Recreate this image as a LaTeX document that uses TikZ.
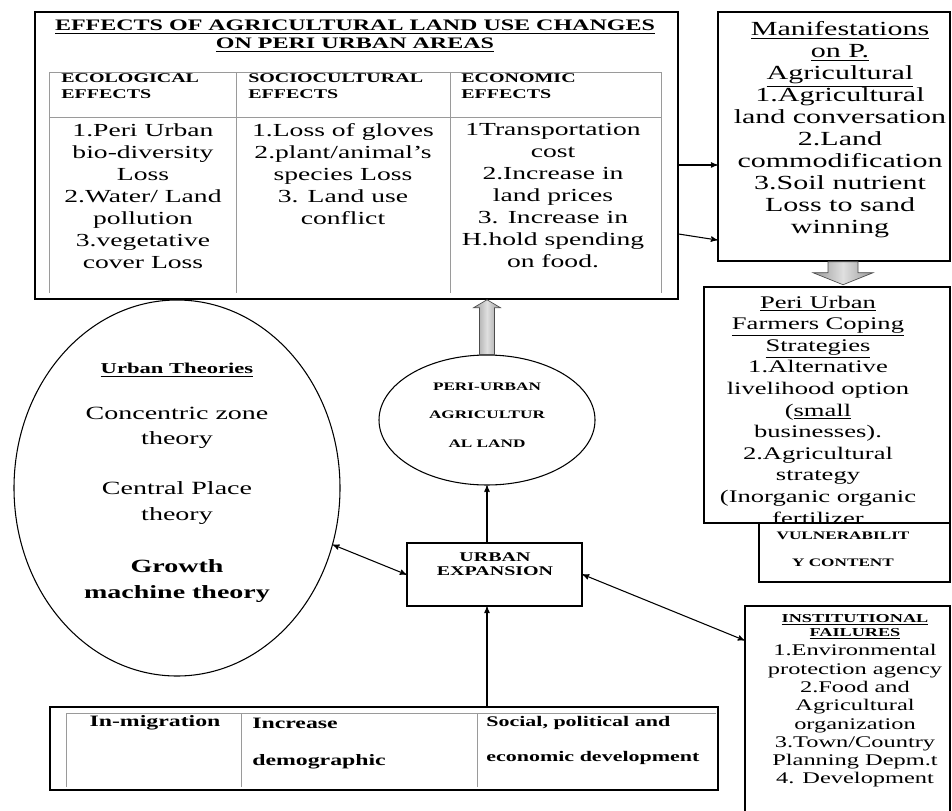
\documentclass[tikz,border=0pt]{standalone}
\usepackage{fontspec}
\setmainfont{Liberation Serif}[FakeStretch=1.5]
\usepackage{tikz}
\usetikzlibrary{arrows,shapes.geometric,calc}
\tikzset{>=stealth'}
\definecolor{gridgray}{HTML}{9A9A9A}
\newcommand{\fs}[2]{\fontsize{#1}{#2}\selectfont}
\tikzset{
  box/.style={draw,line width=1.1pt,fill=white,inner sep=0pt},
  oval/.style={draw,ellipse,line width=0.8pt,inner sep=0pt},
  txt/.style={align=center,inner sep=0pt},
  gridline/.style={gridgray,line width=0.7pt},
  link/.style={line width=0.8pt},
  blockarr/.style={draw=black!70,line width=0.5pt,left color=gray!80,right color=gray!80,middle color=gray!25},
}

\begin{document}
\begin{tikzpicture}[x=0.75pt,y=-0.75pt]
\useasboundingbox (0,0) rectangle (952,810);
\clip (0,0) rectangle (952,810);
% effects table
\node[box,minimum width=482.25pt,minimum height=215.25pt] (effects) at (356.5,155.5) {};
\draw[gridline] (49,293) -- (49,72) -- (661,72) -- (661,293);
\draw[gridline] (49,117) -- (661,117);
\draw[gridline] (236,72) -- (236,293);
\draw[gridline] (450,72) -- (450,293);
\node[txt,font=\fs{12}{13.5}\bfseries] (title) at (355,36) {\underline{EFFECTS OF AGRICULTURAL LAND USE CHANGES}\\\underline{ON PERI URBAN AREAS}};
\node[txt,anchor=west,align=left,font=\fs{10}{12}\bfseries] (hEco) at (61,86) {ECOLOGICAL\\EFFECTS};
\node[txt,anchor=west,align=left,font=\fs{10}{12}\bfseries] (hSoc) at (248,86) {SOCIOCULTURAL\\EFFECTS};
\node[txt,anchor=west,align=left,font=\fs{10}{12}\bfseries] (hEcn) at (461,86) {ECONOMIC\\EFFECTS};
\node[txt,font=\fs{13.8}{16.5}] (ecoList) at (143,196) {1.Peri Urban\\bio-diversity\\Loss\\2.Water/ Land\\pollution\\3.vegetative\\cover Loss};
\node[txt,font=\fs{13.8}{16.5}] (socList) at (343,174) {1.Loss of gloves\\2.plant/animal's\\species Loss\\3. Land use\\conflict};
\node[txt,font=\fs{13.8}{16.5}] (ecnList) at (553,196) {1Transportation\\cost\\2.Increase in\\land prices\\3. Increase in\\H.hold spending\\on food.};

% manifestations
\node[box,minimum width=174pt,minimum height=186.75pt] (manif) at (834,136.5) {};
\node[txt,font=\fs{15}{16.5}] (manifText) at (840,130) {\underline{Manifestations}\\\underline{on P.}\\\underline{Agricultural}\\1.Agricultural\\land conversation\\2.Land\\commodification\\3.Soil nutrient\\Loss to sand\\winning};
\coordinate (e1) at ([yshift=-7.1pt]effects.east);
\coordinate (e2) at ([yshift=-58.9pt]effects.east);
\draw[link,->] (e1) -- (e1 -| manif.west);
\draw[link,->] (e2) -- ($(e2 -| manif.west)+(0,6)$);

% coping strategies and vulnerability
\node[box,minimum width=143.25pt,minimum height=57.75pt] (vulner) at (854.5,543.5) {};
\node[txt,font=\fs{8.6}{20}\bfseries] (vulnerText) at (843,549.5) {VULNERABILIT\\Y CONTENT};
\node[box,minimum width=184.5pt,minimum height=177pt] (coping) at (827,405) {};
\begin{scope}
  \clip (coping.north west) rectangle (coping.south east);
  \node[txt,font=\fs{13.3}{16.2}] (copingText) at (818,410) {\underline{Peri Urban}\\\underline{Farmers Coping}\\\underline{Strategies}\\1.Alternative\\livelihood option\\(\underline{small}\\businesses).\\2.Agricultural\\strategy\\(Inorganic organic\\fertilizer};
\end{scope}
\coordinate (baseD) at ($(manif.south)+(9,0)$);
\coordinate (tipD) at ($(baseD)+(0,23)$);
\shadedraw[blockarr] ($(baseD)+(-15,0)$) -- ($(baseD)+(-15,11)$) -- ($(baseD)+(-30,11)$) -- (tipD)
  -- ($(baseD)+(30,11)$) -- ($(baseD)+(15,11)$) -- ($(baseD)+(15,0)$) -- cycle;

% institutional failures
\node[box,minimum width=153.75pt,minimum height=168pt] (inst) at (847.5,718) {};
\node[txt,font=\fs{9.1}{10.5}\bfseries] (instHead) at (855,627) {\underline{INSTITUTIONAL}\\\underline{FAILURES}};
\node[txt,font=\fs{12.2}{13.7}] (instText) at (855,716) {1.Environmental\\protection agency\\2.Food and\\Agricultural\\organization\\3.Town/Country\\Planning Depm.t\\4. Development};

% urban theories
\node[oval,minimum width=244.5pt,minimum height=282pt] (theories) at (177,488) {};
\node[txt,font=\fs{11.3}{13}\bfseries] (thTitle) at (177,370) {\underline{Urban Theories}};
\node[txt,font=\fs{14}{19}] (thConc) at (177,427.5) {Concentric zone\\theory};
\node[txt,font=\fs{14}{19}] (thCent) at (177,503) {Central Place\\theory};
\node[txt,font=\fs{14}{19.5}\bfseries] (thGrow) at (177,581) {Growth\\machine theory};

% peri-urban land
\node[oval,minimum width=162pt,minimum height=97.5pt] (peri) at (487,420) {};
\node[txt,font=\fs{8.6}{21.4}\bfseries] (periText) at (487,415) {PERI-URBAN\\AGRICULTUR\\AL LAND};
\coordinate (tipU) at (peri.north |- effects.south);
\shadedraw[blockarr] ($(peri.north)+(-7.5,0)$) -- ($(tipU)+(-7.5,8)$) -- ($(tipU)+(-13.5,8)$) -- (tipU)
  -- ($(tipU)+(13.5,8)$) -- ($(tipU)+(7.5,8)$) -- ($(peri.north)+(7.5,0)$) -- cycle;

% urban expansion
\node[box,minimum width=131.25pt,minimum height=47.25pt] (urbexp) at (494.5,574.5) {};
\node[txt,font=\fs{10}{10.5}\bfseries] (urbexpText) at (495,564) {URBAN\\EXPANSION};
\draw[link,->] (urbexp.north -| peri.south) -- (peri.south);
\draw[link,<->] (theories.-20) -- (urbexp.west);
\coordinate (instIn) at ([yshift=-26.25pt]inst.north west);
\draw[link,<->] (urbexp.east) -- (instIn);

% drivers
\node[box,minimum width=501pt,minimum height=62.25pt] (drivers) at (384,748.5) {};
\draw[gridline] (66,787) -- (66,713) -- (716,713);
\draw[gridline] (241,713) -- (241,787);
\draw[gridline] (477,713) -- (477,787);
\node[txt,font=\fs{11.9}{14}\bfseries] (inMig) at (155,723) {In-migration};
\node[txt,anchor=west,font=\fs{11.9}{14}\bfseries] (incr) at (252,723) {Increase};
\node[txt,anchor=west,font=\fs{11.9}{14}\bfseries] (demog) at (252,762) {demographic};
\node[txt,anchor=west,font=\fs{11}{14}\bfseries] (socPol) at (486,723) {Social, political and};
\node[txt,anchor=west,font=\fs{11}{14}\bfseries] (ecoDev) at (486,758) {economic development};
\draw[link,->] (drivers.north -| peri.south) -- (urbexp.south -| peri.south);
\end{tikzpicture}
\end{document}
